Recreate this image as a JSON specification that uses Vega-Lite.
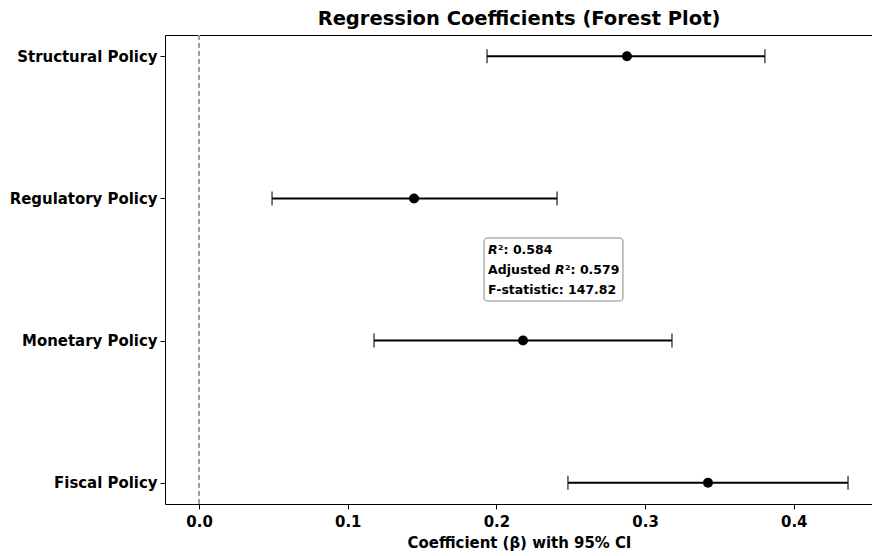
{
  "$schema": "https://vega.github.io/schema/vega-lite/v6.json",
  "autosize": "none",
  "width": 708,
  "height": 469,
  "padding": {"left": 165, "top": 35, "right": 0, "bottom": 52},
  "background": "white",
  "config": {
    "view": {"stroke": "black", "strokeWidth": 1},
    "font": "DejaVu Sans"
  },
  "title": {
    "text": "Regression Coefficients (Forest Plot)",
    "font": "DejaVu Sans",
    "fontSize": 19.5,
    "fontWeight": "bold",
    "color": "black",
    "offset": 5
  },
  "data": {
    "values": [
      {"policy": "Structural Policy", "coef": 0.2878, "lower": 0.1937, "upper": 0.3806},
      {"policy": "Regulatory Policy", "coef": 0.1446, "lower": 0.0491, "upper": 0.2408},
      {"policy": "Monetary Policy", "coef": 0.2179, "lower": 0.1177, "upper": 0.3181},
      {"policy": "Fiscal Policy", "coef": 0.3423, "lower": 0.2481, "upper": 0.4365}
    ]
  },
  "encoding": {
    "y": {
      "field": "policy",
      "type": "nominal",
      "sort": ["Structural Policy", "Regulatory Policy", "Monetary Policy", "Fiscal Policy"],
      "scale": {"type": "point", "padding": 0.15},
      "axis": {
        "title": null,
        "labelFont": "DejaVu Sans Condensed",
        "labelFontWeight": "bold",
        "labelFontSize": 16.6,
        "labelColor": "black",
        "tickColor": "black",
        "tickSize": 5,
        "domain": false,
        "labelPadding": 3
      }
    }
  },
  "layer": [
    {
      "mark": {"type": "rule", "color": "#999999", "strokeDash": [5, 3], "strokeWidth": 1},
      "encoding": {"x": {"datum": 0}, "y": null}
    },
    {
      "mark": {"type": "rule", "color": "black", "strokeWidth": 2},
      "encoding": {
        "x": {
          "field": "lower",
          "type": "quantitative",
          "scale": {"domain": [-0.0229, 0.4533], "nice": false, "zero": false},
          "axis": {
            "values": [0, 0.1, 0.2, 0.3, 0.4],
            "format": ".1f",
            "grid": false,
            "title": "Coefficient (β) with 95% CI",
            "titleFont": "DejaVu Sans Condensed",
            "titleFontWeight": "bold",
            "titleFontSize": 16.6,
            "titleColor": "black",
            "titlePadding": 5,
            "labelFont": "DejaVu Sans Condensed",
            "labelFontWeight": "bold",
            "labelFontSize": 16.6,
            "labelColor": "black",
            "tickColor": "black",
            "tickSize": 5,
            "domain": false,
            "labelPadding": 4
          }
        },
        "x2": {"field": "upper"}
      }
    },
    {
      "mark": {"type": "tick", "orient": "vertical", "color": "black", "size": 14, "thickness": 1.5},
      "encoding": {"x": {"field": "lower", "type": "quantitative"}}
    },
    {
      "mark": {"type": "tick", "orient": "vertical", "color": "black", "size": 14, "thickness": 1.5},
      "encoding": {"x": {"field": "upper", "type": "quantitative"}}
    },
    {
      "mark": {"type": "circle", "color": "black", "opacity": 1, "size": 100},
      "encoding": {"x": {"field": "coef", "type": "quantitative"}}
    },
    {
      "data": {"values": [{"x1": 0.1917, "x2": 0.2851}]},
      "mark": {"type": "rect", "fill": "white", "stroke": "#888888", "strokeWidth": 1, "cornerRadius": 3},
      "encoding": {
        "x": {"field": "x1", "type": "quantitative"},
        "x2": {"field": "x2"},
        "y": {"value": 203},
        "y2": {"value": 266}
      }
    },
    {
      "data": {"values": [{"x": 0.1944, "t": "R"}]},
      "mark": {"type": "text", "align": "left", "baseline": "middle", "font": "DejaVu Sans", "fontSize": 12.5, "fontWeight": "bold", "fontStyle": "italic", "color": "black"},
      "encoding": {"x": {"field": "x", "type": "quantitative"}, "y": {"value": 215}, "text": {"field": "t"}}
    },
    {
      "data": {"values": [{"x": 0.1944, "t": "²: 0.584"}]},
      "mark": {"type": "text", "align": "left", "baseline": "middle", "font": "DejaVu Sans", "fontSize": 12.5, "fontWeight": "bold", "color": "black", "dx": 10},
      "encoding": {"x": {"field": "x", "type": "quantitative"}, "y": {"value": 215}, "text": {"field": "t"}}
    },
    {
      "data": {"values": [{"x": 0.1944, "t": "Adjusted"}]},
      "mark": {"type": "text", "align": "left", "baseline": "middle", "font": "DejaVu Sans", "fontSize": 12.5, "fontWeight": "bold", "color": "black"},
      "encoding": {"x": {"field": "x", "type": "quantitative"}, "y": {"value": 235}, "text": {"field": "t"}}
    },
    {
      "data": {"values": [{"x": 0.1944, "t": "R"}]},
      "mark": {"type": "text", "align": "left", "baseline": "middle", "font": "DejaVu Sans", "fontSize": 12.5, "fontWeight": "bold", "fontStyle": "italic", "color": "black", "dx": 67},
      "encoding": {"x": {"field": "x", "type": "quantitative"}, "y": {"value": 235}, "text": {"field": "t"}}
    },
    {
      "data": {"values": [{"x": 0.1944, "t": "²: 0.579"}]},
      "mark": {"type": "text", "align": "left", "baseline": "middle", "font": "DejaVu Sans", "fontSize": 12.5, "fontWeight": "bold", "color": "black", "dx": 77},
      "encoding": {"x": {"field": "x", "type": "quantitative"}, "y": {"value": 235}, "text": {"field": "t"}}
    },
    {
      "data": {"values": [{"x": 0.1944, "t": "F-statistic: 147.82"}]},
      "mark": {"type": "text", "align": "left", "baseline": "middle", "font": "DejaVu Sans", "fontSize": 12.5, "fontWeight": "bold", "color": "black"},
      "encoding": {"x": {"field": "x", "type": "quantitative"}, "y": {"value": 255}, "text": {"field": "t"}}
    }
  ]
}
